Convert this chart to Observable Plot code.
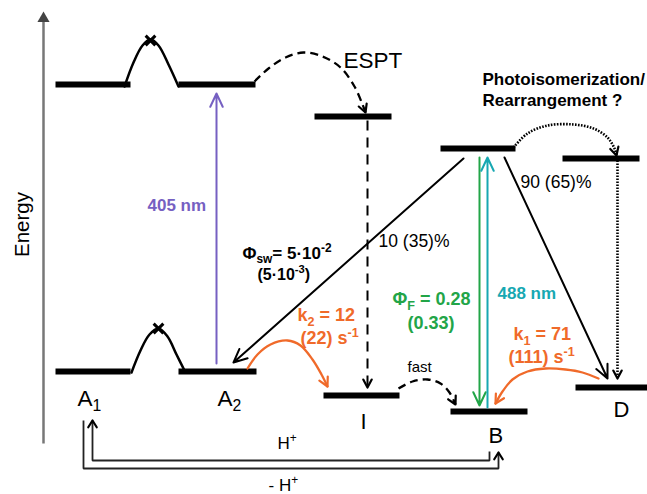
<!DOCTYPE html>
<html><head><meta charset="utf-8">
<script src="https://cdn.jsdelivr.net/npm/d3@7"></script>
<script src="https://cdn.jsdelivr.net/npm/@observablehq/plot@0.6"></script>
<style>body{margin:0;background:#fff}</style>
</head><body><div id="chart"></div>
<script>
const W = 647, H = 494;
const BLACK = "#000", PURPLE = "#7660c2", GREEN = "#22a548", CYAN = "#17a8b2", ORANGE = "#f06a2a", GRAY = "#777";

// Energy levels (x start, x end, level position from top)
const levelNames = ["A1*", "A2*", "I*", "B*", "D*", "A1", "A2", "I", "B", "D"];
const levelX1 = [55, 178, 314, 440, 562, 55, 178, 323, 450, 575];
const levelX2 = [130, 255, 391, 515, 639, 130, 256, 399, 527, 647];
const levelY  = [84, 84, 116, 148, 158, 371, 371, 395, 411, 387];

// Barrier curves between A1 and A2 (excited and ground)
const barrierUpper = [[124,86],[133,62],[142,45],[150,39],[158,45],[168,64],[178,86]];
const barrierLower = [[131,372],[140,350],[149,334],[158,328],[167,336],[176,354],[185,372]];
const barrierPeaks = [[150,40],[158,328]];

// Dashed curved paths
const esptPath = [[254,81],[268,68],[285,57],[303,52],[322,56],[340,67],[354,86],[362,104],[365,112]];
const fastPath = [[398,388],[412,381],[427,379],[440,383],[449,392],[455,404]];
const iDecay   = [[367,120],[367,387]];
// Dotted paths
const isoPath  = [[513,147],[527,133],[547,125],[573,124],[593,128],[607,137],[614,148],[616,155]];
const dDecay   = [[617,160],[617,378]];
// Orange thermal relaxation paths
const k2Path = [[247,368],[257,354],[270,344],[287,340],[300,345],[312,359],[321,374],[327,386]];
const k1Path = [[598,378],[582,372],[565,369],[545,368],[527,371],[512,379],[502,391],[495,403]];

// Straight arrows: [x1, y1, x2, y2, colour]
const straightArrows = [
  [216, 363, 216, 93, PURPLE],   // 405 nm
  [479, 157, 479, 405, GREEN],   // fluorescence
  [487, 407, 487, 157, CYAN],    // 488 nm
  [463, 158, 233, 362, BLACK],   // B* -> A2
  [504, 157, 607, 378, BLACK]    // B* -> D
];

// Proton transfer loops
const protonIn  = [[92,420],[92,460],[489,460],[489,451]];
const protonOut = [[83,420],[83,468],[498,468],[498,452]];

// Labels
const labels = [
  {t:"Energy", x:22, y:224, fs:20.5, rot:-90, anchor:"middle"},
  {t:"ESPT", x:343, y:60, fs:22.5},
  {t:"Photoisomerization/", x:482, y:79, fs:17, w:"bold"},
  {t:"Rearrangement ?", x:482, y:100, fs:17, w:"bold"},
  {t:"405 nm", x:147, y:205, fs:17, w:"bold", c:PURPLE},
  {t:"10 (35)%", x:378, y:241, fs:17.5},
  {t:"90 (65)%", x:520, y:182, fs:17.5},
  {t:"Φ_{sw}= 5·10^{-2}", x:242, y:253, fs:17, w:"bold"},
  {t:"(5·10^{-3})", x:257, y:274, fs:16, w:"bold"},
  {t:"k_{2} = 12", x:297, y:315, fs:18, w:"bold", c:ORANGE},
  {t:"(22) s^{-1}", x:300, y:338, fs:18, w:"bold", c:ORANGE},
  {t:"k_{1} = 71", x:513, y:334, fs:18, w:"bold", c:ORANGE},
  {t:"(111) s^{-1}", x:508, y:357, fs:18, w:"bold", c:ORANGE},
  {t:"Φ_{F} = 0.28", x:392, y:299, fs:18, w:"bold", c:GREEN},
  {t:"(0.33)", x:407, y:323, fs:18, w:"bold", c:GREEN},
  {t:"488 nm", x:497, y:293, fs:17, w:"bold", c:CYAN},
  {t:"fast", x:407, y:367, fs:15},
  {t:"H^{+}", x:277, y:443, fs:17},
  {t:"- H^{+}", x:268, y:485, fs:17},
  {t:"A_{1}", x:77, y:398, fs:22.5},
  {t:"A_{2}", x:217, y:398, fs:22.5},
  {t:"I", x:360, y:421, fs:22},
  {t:"B", x:488, y:435, fs:22},
  {t:"D", x:613, y:409, fs:22}
];

// ---- build tables from the arrays ----
const levels = levelNames.map((n,i) => ({n, x1:levelX1[i], x2:levelX2[i], y:levelY[i]}));
const toPts = (id, arr) => arr.map(([x,y]) => ({id, x, y}));
const barriers = [...toPts("u", barrierUpper), ...toPts("l", barrierLower)];
const dashed = [...toPts("espt", esptPath), ...toPts("fast", fastPath)];
const dotted = toPts("iso", isoPath);
const orange = [...toPts("k2", k2Path), ...toPts("k1", k1Path)];
const protons = [...toPts("in", protonIn), ...toPts("out", protonOut)];
const arrows = straightArrows.map(([x1,y1,x2,y2,c]) => ({x1,y1,x2,y2,c}));
// open chevron arrowheads at the end of curved / dashed paths
function chevron(id, arr, c, L=9, deg=28) {
  const [xa,ya] = arr[arr.length-2], [xb,yb] = arr[arr.length-1];
  const d = Math.hypot(xb-xa, yb-ya), ux = (xb-xa)/d, uy = (yb-ya)/d;
  const a = deg*Math.PI/180, wing = s => {
    const cx = ux*Math.cos(s*a) - uy*Math.sin(s*a), cy = ux*Math.sin(s*a) + uy*Math.cos(s*a);
    return {id, c, x: xb - L*cx, y: yb - L*cy};
  };
  return [wing(1), {id, c, x: xb, y: yb}, wing(-1)];
}
const heads = [
  ...chevron("h1", esptPath, BLACK), ...chevron("h2", fastPath, BLACK), ...chevron("h3", iDecay, BLACK),
  ...chevron("h4", isoPath, BLACK), ...chevron("h5", dDecay, BLACK),
  ...chevron("h6", k2Path, ORANGE, 10), ...chevron("h7", k1Path, ORANGE, 10),
  ...chevron("h8", [protonIn[1], protonIn[0]], BLACK, 8, 32), ...chevron("h9", protonOut.slice(-2), BLACK, 8, 32)
];

const marks = [
  // energy axis
  Plot.link([{x:43, y1:443, y2:20}], {x:"x", y1:"y1", y2:"y2", stroke:GRAY, strokeWidth:2.5}),
  Plot.dot([{x:43, y:18}], {x:"x", y:"y", symbol:"triangle", r:4.5, fill:"#444", stroke:"none"}),
  // levels
  Plot.link(levels, {x1:"x1", x2:"x2", y1:"y", y2:"y", stroke:BLACK, strokeWidth:6}),
  // barriers
  Plot.line(barriers, {x:"x", y:"y", z:"id", curve:"catmull-rom", stroke:BLACK, strokeWidth:2.5}),
  Plot.dot(barrierPeaks.map(([x,y]) => ({x,y})), {x:"x", y:"y", symbol:"times", r:4.5, stroke:BLACK, strokeWidth:3}),
  // dashed
  Plot.line(dashed, {x:"x", y:"y", z:"id", curve:"catmull-rom", stroke:BLACK, strokeWidth:2.3, strokeDasharray:"8,5", strokeLinecap:"butt"}),
  Plot.line(toPts("i", iDecay), {x:"x", y:"y", stroke:BLACK, strokeWidth:2, strokeDasharray:"10,7", strokeLinecap:"butt"}),
  // dotted
  Plot.line(dotted, {x:"x", y:"y", curve:"catmull-rom", stroke:BLACK, strokeWidth:2.6, strokeDasharray:"1.6,1.4", strokeLinecap:"butt"}),
  Plot.line(toPts("d", dDecay), {x:"x", y:"y", stroke:BLACK, strokeWidth:2.6, strokeDasharray:"1.6,1.4", strokeLinecap:"butt"}),
  // orange
  Plot.line(orange, {x:"x", y:"y", z:"id", curve:"catmull-rom", stroke:ORANGE, strokeWidth:2.3}),
  // proton loops
  Plot.line(protons, {x:"x", y:"y", z:"id", stroke:"#222", strokeWidth:1.8, strokeLinejoin:"miter", strokeLinecap:"butt"}),
  // straight arrows
  Plot.arrow(arrows, {x1:"x1", y1:"y1", x2:"x2", y2:"y2", stroke:"c", strokeWidth:2, headLength:11, headAngle:50}),
  // arrowheads of curves
  Plot.line(heads, {x:"x", y:"y", z:"id", stroke:"c", strokeWidth:2.2}),
  // labels
  ...labels.map(l => Plot.text([l], {
    x:"x", y:"y", text:"t", fill: l.c || BLACK, fontSize: l.fs, fontWeight: l.w || "normal",
    textAnchor: l.anchor || "start", lineAnchor:"middle", rotate: l.rot || 0
  }))
];

const plot = Plot.plot({
  width: W, height: H, margin: 0,
  x: {domain:[0, W], range:[0, W], axis:null},
  y: {domain:[0, H], range:[0, H], axis:null},
  color: {type:"identity"},
  style: {fontFamily:"'Liberation Sans', Arial, sans-serif", background:"#fff", overflow:"visible"},
  marks
});

// turn _{..} and ^{..} markup into sub/superscript tspans
d3.select(plot).selectAll("text").each(function() {
  const s = this.textContent;
  if (!/[_^]\{/.test(s)) return;
  const parts = s.split(/([_^]\{[^}]*\})/).filter(p => p.length);
  this.textContent = "";
  let off = 0;
  for (const p of parts) {
    const ts = document.createElementNS("http://www.w3.org/2000/svg", "tspan");
    if (p.startsWith("_{") || p.startsWith("^{")) {
      const sub = p[0] === "_";
      const target = sub ? 0.25 : -0.42;
      ts.setAttribute("font-size", "70%");
      ts.setAttribute("dy", ((target - off) / 0.7).toFixed(3) + "em");
      off = target;
      ts.textContent = p.slice(2, -1);
    } else {
      if (off !== 0) ts.setAttribute("dy", (-off).toFixed(3) + "em");
      off = 0;
      ts.textContent = p;
    }
    this.appendChild(ts);
  }
});

document.getElementById("chart").appendChild(plot);
</script>
</body></html>
